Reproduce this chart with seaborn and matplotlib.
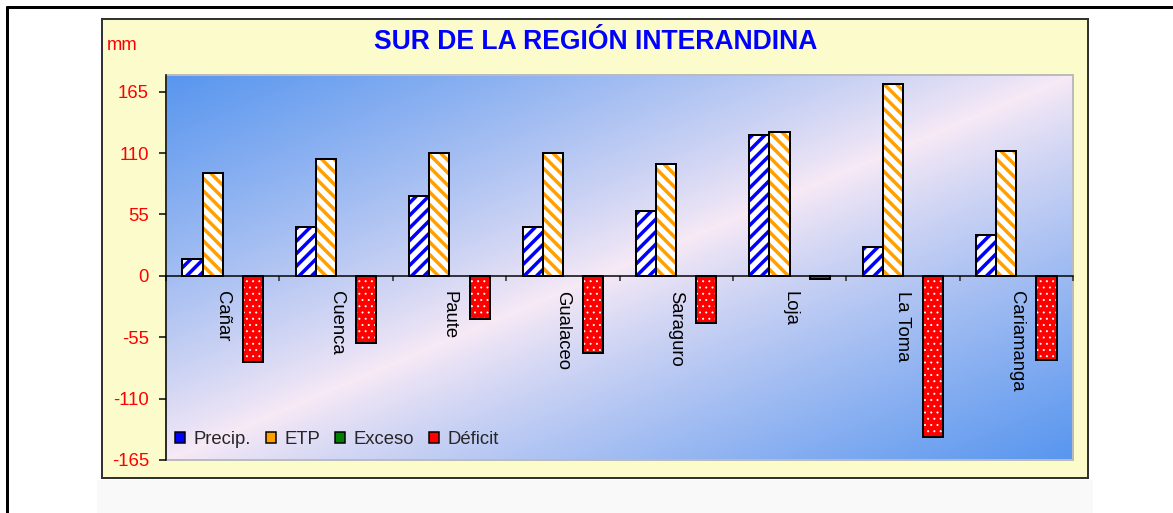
import numpy as np
import pandas as pd
import matplotlib.pyplot as plt
import seaborn as sns
from matplotlib.patches import Rectangle, Patch
from matplotlib.lines import Line2D

estaciones = ['Cañar', 'Cuenca', 'Paute', 'Gualaceo', 'Saraguro', 'Loja', 'La Toma', 'Cariamanga']
precip = [15, 44, 72, 44, 58, 126, 26, 37]
etp = [92, 105, 110, 110, 100, 129, 172, 112]
exceso = [0, 0, 0, 0, 0, 0, 0, 0]
deficit = [-77, -60, -39, -69, -42, -3, -144, -75]
series = ['Precip.', 'ETP', 'Exceso', 'Déficit']
yticks = [-165, -110, -55, 0, 55, 110, 165]

df = pd.DataFrame({
    'estacion': estaciones * 4,
    'serie': np.repeat(series, len(estaciones)),
    'mm': precip + etp + exceso + deficit,
})

DPI = 150
W, H = 1173, 513


def pt(px):
    # pixel size -> points at this dpi
    return px * 72 / DPI


sns.set_style('white')
plt.rcParams['font.family'] = ['Liberation Sans', 'DejaVu Sans']
plt.rcParams['axes.unicode_minus'] = False
plt.rcParams['hatch.linewidth'] = pt(3.5)

fig = plt.figure(figsize=(W / DPI, H / DPI), dpi=DPI)
fig.patch.set_facecolor('white')

# background panels and frame
fig.add_artist(Rectangle((97 / W, 0), (1093 - 97) / W, (513 - 480) / H, transform=fig.transFigure,
                         facecolor='#f9f9f9', edgecolor='none', zorder=-2))
fig.add_artist(Rectangle((102 / W, 1 - 478 / H), 986 / W, 459 / H, transform=fig.transFigure,
                         facecolor='#fcfbcc', edgecolor='#333333', lw=pt(2), zorder=-1))
fig.add_artist(Line2D([7 / W, 1], [1 - 7 / H] * 2, color='black', lw=pt(3)))
fig.add_artist(Line2D([7 / W] * 2, [0, 1 - 7 / H], color='black', lw=pt(3)))

pos = [166 / W, 1 - 460 / H, (1073 - 166) / W, (460 - 75) / H]

# gradient fill of the plot area
bg = fig.add_axes(pos, zorder=0)
xx, yy = np.meshgrid(np.linspace(0, 1, 300), np.linspace(0, 1, 300))
s = np.abs(xx + yy - 1)
blue = np.array([0x58, 0x96, 0xef]) / 255
pink = np.array([0xf8, 0xea, 0xf6]) / 255
img = pink + (blue - pink) * (s[..., None] ** 0.85)
bg.imshow(img, aspect='auto', extent=[0, 1, 0, 1], interpolation='bilinear')
bg.set_xticks([])
bg.set_yticks([])
for sp in bg.spines.values():
    sp.set_color('#bbbbbb')
    sp.set_linewidth(pt(2))

ax = fig.add_axes(pos, zorder=1)
ax.patch.set_alpha(0)

palette = {'Precip.': 'white', 'ETP': 'white', 'Exceso': '#008000', 'Déficit': '#ff0000'}
sns.barplot(data=df, x='estacion', y='mm', hue='serie', hue_order=series, order=estaciones,
            palette=palette, saturation=1, width=0.71, gap=0, legend=False, errorbar=None, ax=ax)

hatch_colors = {'Precip.': '#0000ff', 'ETP': '#ffa000', 'Exceso': 'white', 'Déficit': 'white'}
hatches = {'Precip.': '////', 'ETP': '\\\\\\\\', 'Exceso': '....', 'Déficit': '....'}

for serie, cont in zip(series, ax.containers):
    for bar in cont:
        bar.set_hatch(hatches[serie])
        bar.set_edgecolor(hatch_colors[serie])
        bar.set_linewidth(0)
        if serie in ('Exceso', 'Déficit') and hasattr(bar, 'set_hatch_linewidth'):
            bar.set_hatch_linewidth(pt(0.8))
        if bar.get_height() != 0:
            ax.add_patch(Rectangle(bar.get_xy(), bar.get_width(), bar.get_height(), fill=False,
                                   edgecolor='black', lw=pt(2), zorder=bar.get_zorder() + 0.1))

ax.set_xlim(-0.5, 7.5)
ax.set_ylim(-165, 180)
ax.set_yticks(yticks)
ax.tick_params(axis='y', left=True, colors='black', labelcolor='red', labelsize=pt(18.5),
               length=pt(7), width=pt(1.5), direction='out', pad=pt(10))

ax.spines['bottom'].set_position(('data', 0))
ax.spines['bottom'].set_color('black')
ax.spines['bottom'].set_linewidth(pt(1.5))
ax.spines['left'].set_color('black')
ax.spines['left'].set_linewidth(pt(1.5))
ax.spines['top'].set_visible(False)
ax.spines['right'].set_visible(False)

ax.set_xticks(range(len(estaciones)))
ax.set_xticklabels(estaciones, rotation=-90, fontsize=pt(18.5), color='black')
ax.tick_params(axis='x', which='major', length=0, pad=pt(15))
ax.set_xticks(np.arange(-0.5, len(estaciones), 1), minor=True)
ax.tick_params(axis='x', which='minor', bottom=True, length=pt(5), width=pt(1.5), direction='out')
ax.set_xlabel('')
ax.set_ylabel('')

handles = [Patch(facecolor=c, edgecolor='black', lw=pt(1.5))
           for c in ['#0000ff', '#ffa000', '#008000', '#ff0000']]
ax.legend(handles, series, loc='lower left', bbox_to_anchor=(0.01, 0.03), ncol=4, frameon=False,
          fontsize=pt(18.5), handlelength=0.55, handleheight=0.55, handletextpad=0.45,
          columnspacing=0.8, borderpad=0, borderaxespad=0)

fig.text(596 / W, 1 - 42 / H, 'SUR DE LA REGIÓN INTERANDINA', color='#0000ff', fontsize=pt(26.5),
         fontweight='bold', ha='center', va='center')
fig.text(107 / W, 1 - 45 / H, 'mm', color='red', fontsize=pt(18.5), ha='left', va='center')

fig.savefig('out.png', dpi=DPI)
plt.close(fig)
print("saved out.png")
